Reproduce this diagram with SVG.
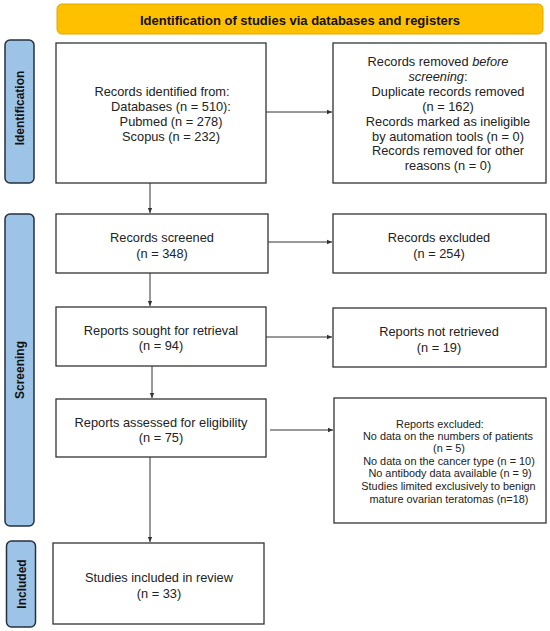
<svg xmlns="http://www.w3.org/2000/svg" width="550" height="631" viewBox="0 0 550 631">
<defs>
<style>
.box{fill:#fff;stroke:#333;stroke-width:1.3}
.side{fill:#9DC3E6;stroke:#24313f;stroke-width:1.5}
.hdr{fill:#FFC000;stroke:#E0A800;stroke-width:1}
.t{font-family:"Liberation Sans",Arial,sans-serif;font-size:12.8px;fill:#222;text-anchor:middle}
.s{font-family:"Liberation Sans",Arial,sans-serif;font-size:10.9px;fill:#222;text-anchor:middle}
.b{font-family:"Liberation Sans",Arial,sans-serif;font-size:12px;font-weight:bold;fill:#111;text-anchor:middle}
.hb{font-family:"Liberation Sans",Arial,sans-serif;font-size:13px;font-weight:bold;fill:#111;text-anchor:middle}
.c{stroke:#333;stroke-width:1;fill:none;marker-end:url(#ah)}
</style>
<marker id="ah" markerWidth="6" markerHeight="6" refX="5" refY="3" orient="auto" markerUnits="userSpaceOnUse">
<path d="M0,0.8 L5,3 L0,5.2 Z" fill="#333"/>
</marker>
</defs>

<g id="header">
<rect class="hdr" x="57" y="4" width="486" height="30" rx="5"/>
<text class="hb" x="300" y="24.5">Identification of studies via databases and registers</text>
</g>

<g id="label-identification">
<rect class="side" x="5" y="40" width="29" height="143" rx="5"/>
<text class="b" transform="translate(24,108) rotate(-90)">Identification</text>
</g>
<g id="label-screening">
<rect class="side" x="5" y="214" width="29" height="312" rx="5"/>
<text class="b" transform="translate(24,370) rotate(-90)">Screening</text>
</g>
<g id="label-included">
<rect class="side" x="6.5" y="541" width="29" height="86" rx="5"/>
<text class="b" transform="translate(25.5,584) rotate(-90)">Included</text>
</g>

<g id="records-identified">
<rect class="box" x="56" y="43" width="210" height="140"/>
<text class="t" x="162" y="95.5">Records identified from:</text>
<text class="t" x="171" y="110.5">Databases (n = 510):</text>
<text class="t" x="171" y="125.5">Pubmed (n = 278)</text>
<text class="t" x="171" y="140.5">Scopus (n = 232)</text>
</g>

<g id="records-removed">
<rect class="box" x="333" y="43" width="213" height="140"/>
<text class="t" x="438" y="65.5">Records removed <tspan font-style="italic">before</tspan></text>
<text class="t" x="438" y="80.5"><tspan font-style="italic">screening</tspan>:</text>
<text class="t" x="448" y="95.5">Duplicate records removed</text>
<text class="t" x="448" y="110.5">(n = 162)</text>
<text class="t" x="448" y="125.5">Records marked as ineligible</text>
<text class="t" x="448" y="140.5">by automation tools (n = 0)</text>
<text class="t" x="448" y="155">Records removed for other</text>
<text class="t" x="448" y="170">reasons (n = 0)</text>
</g>

<g id="records-screened">
<rect class="box" x="56" y="214" width="212" height="59"/>
<text class="t" x="162" y="241.5">Records screened</text>
<text class="t" x="162" y="257.5">(n = 348)</text>
</g>

<g id="records-excluded">
<rect class="box" x="333" y="214" width="213" height="59"/>
<text class="t" x="439" y="241.5">Records excluded</text>
<text class="t" x="439" y="257.5">(n = 254)</text>
</g>

<g id="reports-sought">
<rect class="box" x="56" y="307" width="210" height="59"/>
<text class="t" x="161" y="334.5">Reports sought for retrieval</text>
<text class="t" x="161" y="349.5">(n = 94)</text>
</g>

<g id="reports-not-retrieved">
<rect class="box" x="333" y="308" width="213" height="59"/>
<text class="t" x="439" y="335.5">Reports not retrieved</text>
<text class="t" x="439" y="351.5">(n = 19)</text>
</g>

<g id="reports-assessed">
<rect class="box" x="56" y="399" width="210" height="58"/>
<text class="t" x="161" y="426.5">Reports assessed for eligibility</text>
<text class="t" x="161" y="441.5">(n = 75)</text>
</g>

<g id="reports-excluded">
<rect class="box" x="334" y="398" width="212" height="125"/>
<text class="s" x="440" y="428">Reports excluded:</text>
<text class="s" x="448" y="440">No data on the numbers of patients</text>
<text class="s" x="449" y="452">(n = 5)</text>
<text class="s" x="449" y="465">No data on the cancer type  (n = 10)</text>
<text class="s" x="450" y="477">No antibody data available  (n = 9)</text>
<text class="s" x="448.5" y="490">Studies limited exclusively to benign</text>
<text class="s" x="449" y="503">mature ovarian teratomas (n=18)</text>
</g>

<g id="studies-included">
<rect class="box" x="53" y="543" width="211" height="81"/>
<text class="t" x="159" y="581.5">Studies included in review</text>
<text class="t" x="159" y="597.5">(n = 33)</text>
</g>

<g id="connectors">
<line class="c" x1="266" y1="112" x2="332" y2="112"/>
<line class="c" x1="150" y1="183" x2="150" y2="213"/>
<line class="c" x1="268" y1="242" x2="332" y2="242"/>
<line class="c" x1="150" y1="273" x2="150" y2="306"/>
<line class="c" x1="266" y1="337" x2="332" y2="337"/>
<line class="c" x1="152" y1="366" x2="152" y2="398"/>
<line class="c" x1="270" y1="430" x2="333" y2="430"/>
<line class="c" x1="150" y1="457" x2="150" y2="542"/>
</g>
</svg>
